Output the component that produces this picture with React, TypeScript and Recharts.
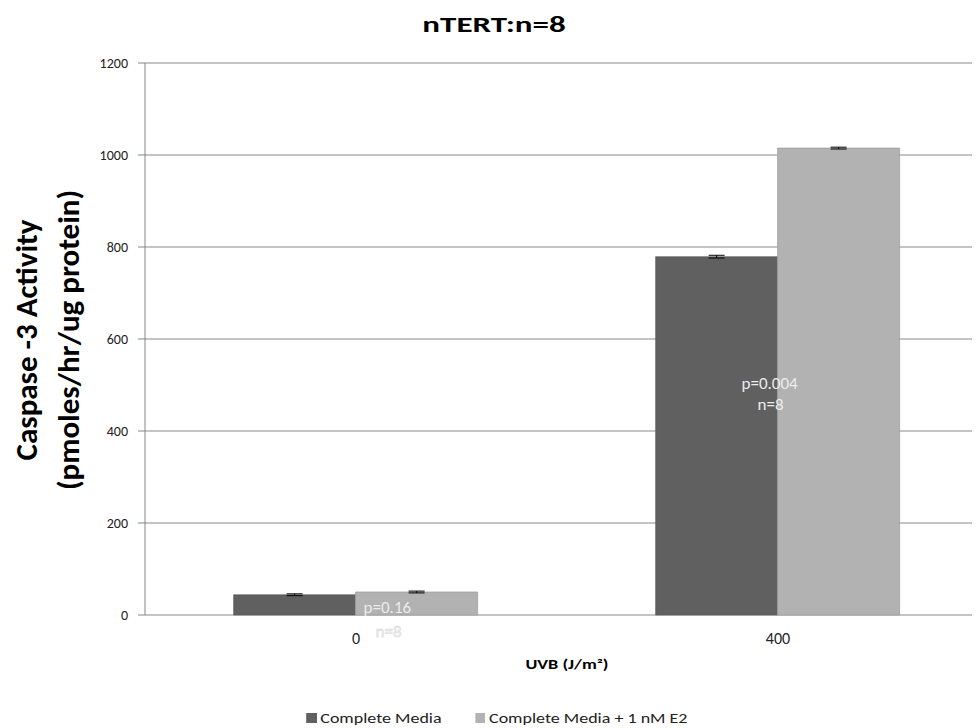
import {
  BarChart,
  Bar,
  XAxis,
  YAxis,
  CartesianGrid,
  Legend,
  ErrorBar,
  LabelList,
} from "recharts";

const categories = ["0", "400"];
const completeMedia = [44, 779];
const completeMediaErr = [2, 3];
const withE2 = [50, 1015];
const withE2Err = [2, 2];
const pLabels = ["p=0.16", "p=0.004"];
const nLabels = ["n=8", "n=8"];
const yTicks = [0, 200, 400, 600, 800, 1000, 1200];

const FONT = "Carlito, Lato, 'Open Sans', sans-serif";

const data = categories.map((c, i) => ({
  uvb: c,
  cm: completeMedia[i],
  cmErr: completeMediaErr[i],
  e2: withE2[i],
  e2Err: withE2Err[i],
}));

// annotation text sits on the E2 bar, like the hand-placed Excel labels
function StatLabel(props: any) {
  const { x, y, height, index } = props;
  if (index === 0) {
    const bottom = y + height;
    return (
      <g fontFamily={FONT} fontSize={17} fill="#ececec">
        <text x={x + 8} y={bottom - 2}>{pLabels[index]}</text>
        <text x={x + 20} y={bottom + 22} fill="#f6f6f6" stroke="#d0d0d0" strokeWidth={0.5}>
          {nLabels[index]}
        </text>
      </g>
    );
  }
  const mid = y + height / 2;
  return (
    <g fontFamily={FONT} fontSize={17} fill="#ececec" textAnchor="middle">
      <text x={x - 8} y={mid + 7}>{pLabels[index]}</text>
      <text x={x - 7} y={mid + 28}>{nLabels[index]}</text>
    </g>
  );
}

function YLabel() {
  const cy = 332;
  return (
    <g fontFamily={FONT} fontWeight="bold" fontSize={31} fill="#000" textAnchor="middle">
      <text x={29} y={cy} transform={`rotate(-90 29 ${cy})`}>
        Caspase -3 Activity
      </text>
      <text x={71} y={cy} transform={`rotate(-90 71 ${cy})`}>
        (pmoles/hr/ug protein)
      </text>
    </g>
  );
}

function XLabel(props: any) {
  const vb = props.viewBox || {};
  const cx = (vb.x || 0) + (vb.width || 0) / 2;
  const y = 661;
  return (
    <text
      transform={`translate(${cx} ${y}) scale(1.4 1)`}
      textAnchor="middle"
      fontFamily={FONT}
      fontWeight="bold"
      fontSize={13}
      fill="#000"
    >
      UVB (J/m²)
    </text>
  );
}

function LegendContent() {
  const items = [
    { name: "Complete Media", color: "#606060" },
    { name: "Complete Media + 1 nM E2", color: "#b2b2b2" },
  ];
  return (
    <div
      style={{
        display: "flex",
        justifyContent: "center",
        gap: 28,
        fontFamily: FONT,
        fontSize: 15,
        color: "#222",
        transform: "scaleX(1.2)",
        transformOrigin: "50% 50%",
      }}
    >
      {items.map((it) => (
        <span key={it.name} style={{ display: "flex", alignItems: "center" }}>
          <span
            style={{
              width: 8.5,
              height: 10,
              background: it.color,
              display: "inline-block",
              marginRight: 3,
            }}
          />
          {it.name}
        </span>
      ))}
    </div>
  );
}

export default function App() {
  return (
    <div style={{ width: 972, height: 720, overflow: "hidden", position: "relative" }}>
      <div
        style={{
          position: "absolute",
          top: 3,
          left: 0,
          width: 972,
          textAlign: "center",
          fontFamily: FONT,
          fontWeight: "bold",
          fontSize: 22,
          zIndex: 2,
          transform: "scaleX(1.5)",
          transformOrigin: "486px 50%",
        }}
      >
        nTERT:n=8
      </div>
      <BarChart
        width={1000}
        height={720}
        data={data}
        margin={{ top: 55, right: 19, left: 80, bottom: 45 }}
        barCategoryGap="21%"
        barGap={0}
      >
        <CartesianGrid vertical={false} stroke="#8a8a8a" strokeWidth={1.2} />
        <XAxis
          dataKey="uvb"
          axisLine={false}
          tickLine={false}
          tick={{ fontFamily: FONT, fontSize: 16, fill: "#222" }}
          tickMargin={12}
          height={50}
          label={<XLabel />}
        />
        <XAxis
          xAxisId="bounds"
          type="number"
          domain={[0, 2]}
          ticks={[0, 1, 2]}
          tick={false}
          tickSize={6}
          stroke="#868686"
          height={0}
        />
        <YAxis
          domain={[0, 1200]}
          ticks={yTicks}
          width={57}
          tickSize={7}
          tickMargin={10}
          stroke="#868686"
          tick={{ fontFamily: FONT, fontSize: 14, fill: "#222" }}
          label={<YLabel />}
        />
        <Legend
          verticalAlign="bottom"
          content={<LegendContent />}
          wrapperStyle={{ bottom: 1, left: 0, width: 978 }}
        />
        <Bar
          dataKey="cm"
          name="Complete Media"
          fill="#606060"
          stroke="#575757"
          strokeWidth={0.6}
          isAnimationActive={false}
        >
          <ErrorBar dataKey="cmErr" width={8} stroke="#000" strokeWidth={1} />
        </Bar>
        <Bar
          dataKey="e2"
          name="Complete Media + 1 nM E2"
          fill="#b2b2b2"
          stroke="#a0a0a0"
          strokeWidth={0.8}
          isAnimationActive={false}
        >
          <ErrorBar dataKey="e2Err" width={8} stroke="#000" strokeWidth={1} />
          <LabelList content={<StatLabel />} />
        </Bar>
      </BarChart>
    </div>
  );
}
